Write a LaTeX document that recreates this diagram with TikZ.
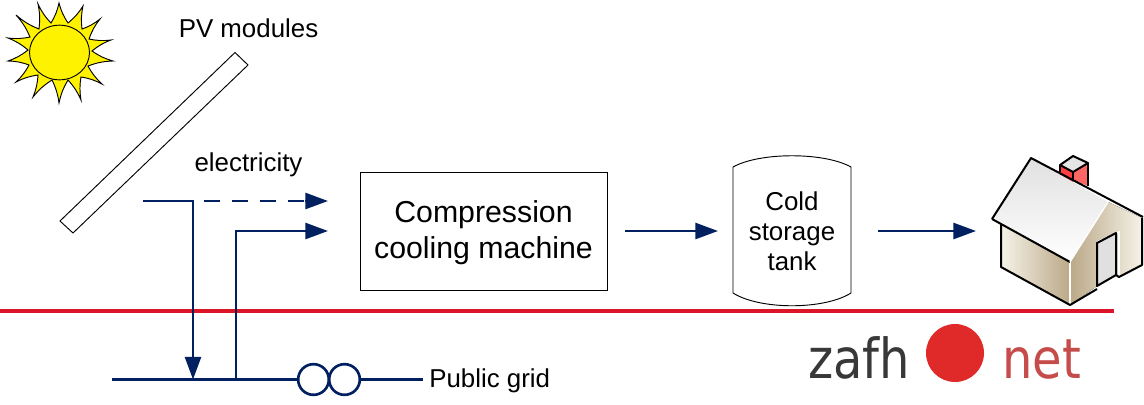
\documentclass[tikz,border=0pt]{standalone}
\usepackage{fontspec}
\setmainfont{Liberation Sans}
\newfontfamily\logofont{DejaVu Sans}
\usetikzlibrary{arrows.meta,shapes.geometric}
\definecolor{navy}{HTML}{002060}
\definecolor{gridred}{HTML}{DC1428}
\definecolor{wallhi}{HTML}{F6F2E8}
\definecolor{walllo}{HTML}{BBA988}
\definecolor{logored}{HTML}{E02A2A}
\definecolor{logonet}{HTML}{C64B4B}
\definecolor{logogrey}{HTML}{383838}
\tikzset{
  flow/.style={draw=navy,line width=2pt},
  flowarrow/.style={flow,-{Triangle[length=17pt,width=12pt]}},
  outline/.style={draw=black,line width=0.7pt},
  label/.style={inner sep=0pt,font=\fontsize{19.4pt}{23pt}\selectfont,text=black},
  biglabel/.style={inner sep=0pt,font=\fontsize{22.7pt}{27pt}\selectfont,align=center,text=black},
  tanklabel/.style={inner sep=0pt,font=\fontsize{19.4pt}{22.5pt}\selectfont,align=center,text=black},
  houseline/.style={draw=black,line width=1.5pt,line join=round},
  transformer/.style={circle,draw=navy,line width=2pt,minimum size=23pt,inner sep=0pt,fill=white},
  logotext/.style={inner sep=0pt,anchor=base west,font=\logofont\fontsize{36pt}{40pt}\selectfont},
}
\begin{document}
\begin{tikzpicture}[x=0.75pt,y=-0.75pt]
\useasboundingbox (0,0) rectangle (1144,404);
% sun
\draw[outline,fill=yellow,every to/.style={bend right=9}]
 (59,3) to (68,23) to (83,6) to (82,29) to (100,19) to (89,39) to (111,40) to (92,51)
 to (113,61) to (88,66) to (102,84) to (81,77) to (81,100) to (68,80) to (59,103)
 to (52,80) to (33,97) to (38,75) to (16,82) to (29,65) to (8,61) to (28,50)
 to (8,38) to (30,37) to (16,15) to (39,29) to (38,4) to (51,23) to cycle;
\node[ellipse,draw=black,line width=0.7pt,fill=yellow,minimum width=45pt,minimum height=41pt,inner sep=0pt] (sun) at (59.5,52.5) {};
% PV panel
\draw[outline,fill=white] (235,52.5) -- (248,65) -- (73,233) -- (60,221) -- cycle;
\node[label] (pv) at (248.5,28) {PV modules};
\node[label] (elec) at (248.5,165) {electricity};
% red line
\coordinate (redL) at (0,311);
\coordinate (redR) at (1114,311);
\draw[draw=gridred,line width=3pt] (redL) -- (redR);
% grid
\coordinate (pvout) at (143,201);
\coordinate (pvcorner) at (193,201);
\coordinate (gridin) at (193,379.5);
\coordinate (dashstart) at (204,201);
\coordinate (dashend) at (328,201);
\coordinate (gridout) at (236,379.5);
\coordinate (gridcorner) at (236,231);
\coordinate (machinein) at (328,231);
\coordinate (busL) at (112,379.5);
\coordinate (busR) at (423,379.5);
\node[transformer] (tr1) at (313.5,379.5) {};
\node[transformer] (tr2) at (344.5,379.5) {};
\draw[flow] (busL) -- (tr1);
\draw[flow] (tr2) -- (busR);
\draw[flowarrow] (pvout) -- (pvcorner) -- (gridin);
\draw[flow,dash pattern=on 12pt off 9pt] (dashstart) -- (310,201);
\draw[flowarrow] (305,201) -- (dashend);
\draw[flowarrow] (gridout) -- (gridcorner) -- (machinein);
\node[label,anchor=west] (pub) at (429,381) {Public grid};
% machine
\node[draw=black,line width=0.7pt,minimum width=185.25pt,minimum height=88.5pt,inner sep=0pt,fill=white] (box) at (483.5,231) {};
\node[biglabel] (boxtext) at (483.5,233) {Compression\\cooling machine};
% tank
\draw[outline,fill=white] (733,167) .. controls (760,152) and (824,152) .. (851,167) -- (851,293)
  .. controls (824,310) and (760,310) .. (733,293) -- cycle;
\node[tanklabel] (tank) at (792,231) {Cold\\storage\\tank};
\coordinate (boxout) at (625,231);
\coordinate (tankin) at (718,231);
\coordinate (tankout) at (878,231);
\coordinate (housein) at (976,231);
\draw[flowarrow] (boxout) -- (tankin);
\draw[flowarrow] (tankout) -- (housein);
% house
\fill[left color=wallhi,right color=walllo] (1001,223) -- (1070,262) -- (1070,305) -- (1001,267) -- cycle;
\fill[left color=walllo,right color=wallhi] (1070,262) -- (1108,202) -- (1142,218) -- (1142,265) -- (1119,277) -- (1115,275) -- (1097,286) -- (1070,305) -- cycle;
\draw[draw=white,line width=1.2pt] (1070,262) -- (1070,304);
\draw[draw=white,line width=1.2pt] (1097,242) -- (1119,232) -- (1119,276);
% chimney
\fill[red!75!white] (1060,165) -- (1073,172) -- (1073,190) -- (1060,183) -- cycle;
\fill[red!60!white] (1073,172) -- (1088,163) -- (1088,186) -- (1073,180) -- cycle;
\filldraw[houseline,fill=black!10] (1060,165) -- (1073,156) -- (1088,163) -- (1073,172) -- cycle;
\draw[houseline] (1060,165) -- (1060,172);
\draw[houseline] (1073,172) -- (1073,180);
\draw[houseline] (1088,163) -- (1088,186);
% roof
\shade[top color=black!12,bottom color=white] (1031,158) -- (992,219) -- (1070,262) -- (1108,202) -- cycle;
\draw[houseline] (992,219) -- (1031,158) -- (1143,217);
\draw[houseline] (992,219) -- (1070,262);
\draw[draw=white,line width=1pt] (1070,262) -- (1108,202);
\draw[houseline] (1001,224) -- (1001,267) -- (1070,305) -- (1097,289);
\draw[houseline] (1142,218) -- (1142,265) -- (1119,277) -- (1116,275);
% door
\filldraw[houseline,fill=black!12] (1097,243) -- (1116,233) -- (1116,275) -- (1097,286) -- cycle;
% logo
\node[logotext,text=logogrey] (zafh) at (808,378) {\scalebox{1}[1.15]{zafh}};
\node[circle,fill=logored,minimum size=43.5pt,inner sep=0pt] (dot) at (955,353) {};
\node[logotext,text=logonet] (net) at (1002,378) {\scalebox{1}[1.15]{net}};
\end{tikzpicture}
\end{document}
